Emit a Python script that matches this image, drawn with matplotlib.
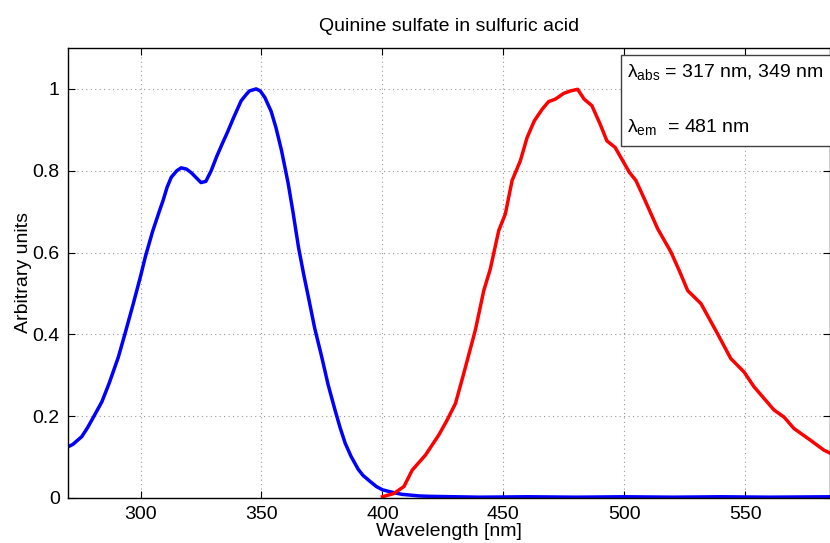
import matplotlib
matplotlib.use('Agg')
import matplotlib.pyplot as plt
from matplotlib.patches import Rectangle

plt.rcParams['font.family'] = ['Liberation Sans', 'DejaVu Sans']
plt.rcParams['mathtext.fontset'] = 'custom'
plt.rcParams['mathtext.rm'] = 'Liberation Sans'
plt.rcParams['mathtext.it'] = 'Liberation Sans'

# absorption spectrum (blue)
abs_nm = [270, 272, 275.7, 278, 280, 284, 287, 290.8, 293.5, 297, 300, 302, 305, 308,
          309.3, 311, 312.7, 315, 316.8, 319, 321, 323, 325, 327, 329.2, 331.5,
          334, 336, 338.2, 340, 341.6, 343.5, 345, 347.8, 349.5, 351.4, 354, 356,
          358.3, 361, 363, 365.3, 367.5, 369.4, 372, 374.9, 377.5, 380.4, 382.5,
          384.6, 387, 390, 392, 395, 397.5, 400, 404.7, 408, 411.6, 415, 420,
          430, 440, 460, 480, 500, 520, 540, 560, 585]
abs_val = [0.125, 0.131, 0.15, 0.171, 0.192, 0.235, 0.28, 0.344, 0.40, 0.475, 0.542,
           0.59, 0.652, 0.705, 0.727, 0.76, 0.784, 0.80, 0.807, 0.804, 0.795, 0.783,
           0.771, 0.774, 0.80, 0.835, 0.869, 0.895, 0.926, 0.95, 0.971, 0.985,
           0.995, 1.0, 0.995, 0.979, 0.945, 0.905, 0.849, 0.77, 0.70, 0.613,
           0.545, 0.491, 0.415, 0.345, 0.278, 0.215, 0.172, 0.134, 0.102, 0.07,
           0.055, 0.04, 0.028, 0.02, 0.013, 0.009, 0.007, 0.005, 0.004,
           0.003, 0.002, 0.003, 0.002, 0.003, 0.002, 0.003, 0.002, 0.003]

# emission spectrum (red)
em_nm = [400, 404.7, 408.9, 412.3, 417.8, 423.3, 426.7, 430.2, 433.6, 438.4, 441.9,
         444.6, 448.1, 450.8, 453.6, 457, 459.8, 462.8, 466, 468.7, 471.5, 474.9,
         477.7, 480.7, 483.4, 486.6, 490, 492.8, 496.2, 499, 502.1, 504.8, 508.3,
         513.8, 519.3, 522.7, 526.2, 531.7, 538.5, 544, 549.5, 553.6, 561.9, 566,
         570.1, 577, 582.5, 585.3]
em_val = [0.003, 0.011, 0.028, 0.068, 0.105, 0.154, 0.19, 0.231, 0.304, 0.41, 0.507,
          0.56, 0.654, 0.694, 0.776, 0.824, 0.881, 0.922, 0.95, 0.969, 0.975, 0.989,
          0.995, 0.999, 0.975, 0.959, 0.914, 0.873, 0.857, 0.828, 0.796, 0.776,
          0.731, 0.658, 0.601, 0.556, 0.507, 0.475, 0.402, 0.341, 0.308, 0.272,
          0.215, 0.198, 0.17, 0.141, 0.117, 0.109]

xticks = [300, 350, 400, 450, 500, 550]
yticks = [0, 0.2, 0.4, 0.6, 0.8, 1]
ytick_labels = ['0', '0.2', '0.4', '0.6', '0.8', '1']

fig = plt.figure(figsize=(8.3, 5.43), dpi=100)
ax = fig.add_axes([0.0819, 0.0829, 0.918, 0.8287])

ax.plot(abs_nm, abs_val, color='#0000ff', lw=2.5)
ax.plot(em_nm, em_val, color='#ff0000', lw=2.5)

ax.set_xlim(270, 585)
ax.set_ylim(0, 1.1)
ax.set_xticks(xticks)
ax.set_yticks(yticks)
ax.set_yticklabels(ytick_labels)
ax.tick_params(direction='in', top=True, right=True, length=5, width=0.8,
               labelsize=14, pad=6)
ax.grid(True, linestyle=(0, (1, 3)), color='0.6', lw=0.8)
for s in ax.spines.values():
    s.set_linewidth(1.0)

ax.set_title('Quinine sulfate in sulfuric acid', fontsize=14, pad=12)
ax.set_xlabel('Wavelength [nm]', fontsize=14, labelpad=0)
ax.set_ylabel('Arbitrary units', fontsize=14, labelpad=0)

# annotation box
ax.add_patch(Rectangle((0.7257, 0.782), 0.3, 0.2024, transform=ax.transAxes,
                       facecolor='white', edgecolor='0.25', lw=1.0,
                       clip_on=False, zorder=5))
ax.text(0.7336, 0.9356, r'λ$_{\rm abs}$ = 317 nm, 349 nm', transform=ax.transAxes,
        fontsize=14, va='baseline', ha='left', zorder=6)
ax.text(0.7336, 0.814, r'λ$_{\rm em}$  = 481 nm', transform=ax.transAxes,
        fontsize=14, va='baseline', ha='left', zorder=6)

fig.savefig('out.png', dpi=100)
